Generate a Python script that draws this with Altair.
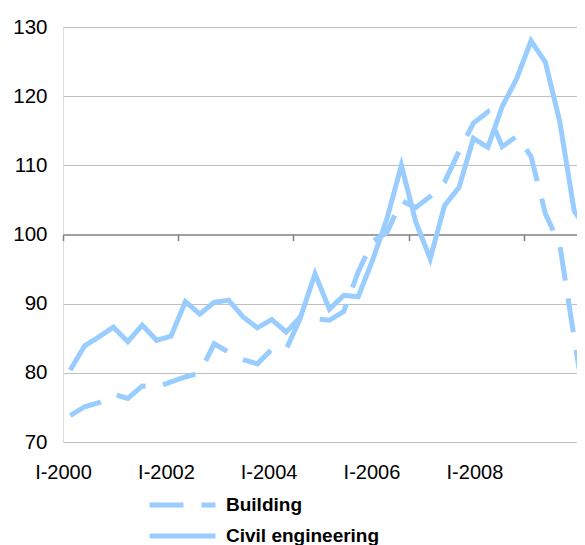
import altair as alt
import pandas as pd

# Quarterly index values, I-2000 .. I-2009 (37 quarters)
years = [2000, 2001, 2002, 2003, 2004, 2005, 2006, 2007, 2008, 2009]
quarter_names = ["I", "II", "III", "IV"]
quarters = [f"{q}-{y}" for y in years for q in quarter_names][:37]

building = [73.8, 75.1, 75.7, 76.9, 76.3, 78.1, 77.9, 78.7, 79.4, 80.0,
            84.2, 83.0, 81.9, 81.3, 83.4, 83.4, 88.0, 87.8, 87.6, 88.9,
            94.6, 99.0, 100.3, 104.9, 103.9, 105.5, 107.6, 112.0, 116.1, 117.7,
            112.7, 114.2, 111.3, 103.0, 98.5, 85.0, 72.0]

civil = [80.4, 83.9, 85.2, 86.6, 84.5, 86.9, 84.7, 85.3, 90.3, 88.5,
         90.2, 90.5, 88.1, 86.5, 87.7, 85.9, 88.1, 94.3, 89.2, 91.2,
         91.0, 96.3, 102.3, 110.0, 101.8, 96.5, 104.2, 106.8, 113.9, 112.6,
         118.5, 122.5, 128.0, 124.9, 116.3, 103.4, 100.4]

series_names = ["Building", "Civil engineering"]
tick_labels = ["I-2000", "I-2002", "I-2004", "I-2006", "I-2008"]
label_pos = [0.0, 7.15, 14.28, 21.42, 28.57]
tick_pos = [0, 8, 16, 24, 32]
y_values = [70, 80, 90, 100, 110, 120, 130]

rows = []
for i, qn in enumerate(quarters):
    rows.append({"quarter": qn, "pos": i + 0.5, "series": series_names[0], "value": building[i]})
    rows.append({"quarter": qn, "pos": i + 0.5, "series": series_names[1], "value": civil[i]})
df = pd.DataFrame(rows)

COLOR = "#99CCFF"
FONT = "Liberation Sans"
PLOT_W = 514
X_MAX = PLOT_W / 14.4

x_scale = alt.Scale(domain=[0, X_MAX], nice=False, zero=False)
y_scale = alt.Scale(domain=[70, 130], nice=False, zero=False)

labels_js = "[" + ",".join(f"'{t}'" for t in tick_labels) + "]"

label_axis = alt.Axis(
    orient="bottom", values=label_pos,
    labelExpr=f"{labels_js}[round(datum.value / 7.14)]",
    domain=False, ticks=False, tickSize=0, grid=False,
    labelPadding=30, labelBaseline="middle", labelFontSize=20, labelFont=FONT,
    labelColor="black", labelFlush=False, labelOverlap=False, title=None,
)

mid_axis = alt.Axis(
    orient="bottom", offset=-207.4, values=tick_pos, labels=False, grid=False,
    domain=True, domainColor="#808080", domainWidth=1.5,
    ticks=True, tickColor="#808080", tickWidth=1.5, tickSize=6, title=None,
)

y_axis = alt.Axis(
    values=y_values, grid=True, gridColor="#C0C0C0", gridWidth=1,
    gridOpacity={"condition": {"test": "datum.value === 100", "value": 0}, "value": 1},
    domain=False, ticks=False, tickSize=0, labelPadding=16,
    labelFontSize=20.5, labelFont=FONT, labelColor="black", title=None,
)

axis_layer = alt.Chart(df).mark_point(opacity=0, clip=True).encode(
    x=alt.X("pos:Q", scale=x_scale, axis=mid_axis),
    y=alt.Y("value:Q", scale=y_scale, axis=y_axis),
)

lines = alt.Chart(df).mark_line(
    strokeWidth=5, color=COLOR, clip=True, strokeCap="butt"
).encode(
    x=alt.X("pos:Q", scale=x_scale, axis=label_axis),
    y=alt.Y("value:Q", scale=y_scale, axis=y_axis),
    strokeDash=alt.StrokeDash(
        "series:N",
        scale=alt.Scale(domain=series_names, range=[[34, 18], [1, 0]]),
        legend=alt.Legend(
            title=None, orient="none", legendX=84, legendY=468,
            direction="vertical", symbolType="stroke", symbolSize=4356,
            symbolStrokeWidth=5, symbolStrokeColor=COLOR, clipHeight=20,
            rowPadding=11, labelOffset=8, labelFontSize=19,
            labelFontWeight="bold", labelFont=FONT, labelColor="black",
            padding=0, labelLimit=0, symbolOffset=0,
        ),
    ),
    order=alt.Order("pos:Q"),
)

chart = alt.layer(axis_layer, lines).resolve_axis(x="independent").properties(
    width=PLOT_W, height=415,
    autosize=alt.AutoSizeParams(type="none"),
    padding={"left": 55, "top": 19, "right": 0, "bottom": 110},
).configure_view(stroke=None).configure(background="white")

chart.save("out.html", embed_options={"renderer": "svg", "actions": False})
